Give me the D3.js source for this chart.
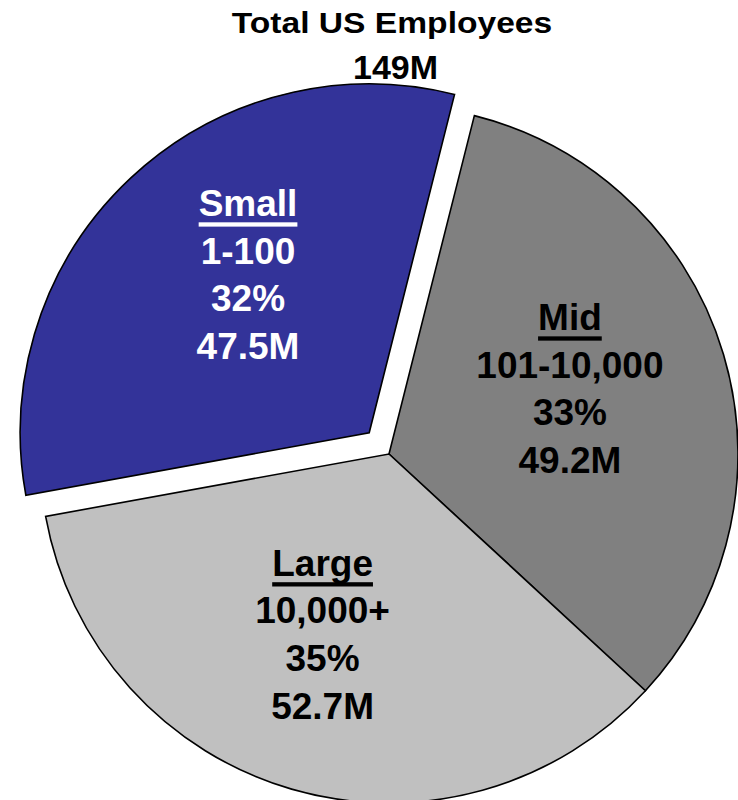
<!DOCTYPE html>
<html>
<head>
<meta charset="utf-8">
<script src="https://cdn.jsdelivr.net/npm/d3@7/dist/d3.min.js"></script>
<style>
  html, body { margin: 0; padding: 0; background: #fff; }
  svg { display: block; }
  text { font-family: "Liberation Sans", Arial, sans-serif; font-weight: bold; }
</style>
</head>
<body>
<svg id="chart" width="738" height="800"></svg>
<script>
// Employees by company size (millions)
const categories = ["Small", "Mid", "Large"];
const sizeRanges = ["1-100", "101-10,000", "10,000+"];
const employees = [47.5, 49.2, 52.7];
const shareLabels = ["32%", "33%", "35%"];
const valueLabels = ["47.5M", "49.2M", "52.7M"];
const titleLines = ["Total US Employees", "149M"];
const exploded = ["Small"];

const colors = { Small: "#333399", Mid: "#808080", Large: "#C0C0C0" };
const textColors = { Small: "#ffffff", Mid: "#000000", Large: "#000000" };

const W = 738, H = 800;
const cx = 389, cy = 454, R = 349;
const explodeDist = 29;
const labelRadius = 195;
const lineGap = 47.7;
const labelFont = 37;
// fine placement of each label block relative to its slice centroid
const labelShift = { Small: [12, -4], Mid: [-6, 2], Large: [-12, 5] };

const data = categories.map((c, i) => ({
  cat: c, range: sizeRanges[i], value: employees[i],
  share: shareLabels[i], amount: valueLabels[i]
}));

const startDeg = 259.7;
const a0 = startDeg * Math.PI / 180;
const pie = d3.pie().sort(null).value(d => d.value)
  .startAngle(a0).endAngle(a0 + 2 * Math.PI);
const arcs = pie(data);

const arc = d3.arc().innerRadius(0).outerRadius(R);
const labelArc = d3.arc().innerRadius(labelRadius).outerRadius(labelRadius);

const svg = d3.select("#chart");
const g = svg.append("g").attr("transform", `translate(${cx},${cy})`);

function offsetOf(d) {
  if (!exploded.includes(d.data.cat)) return [0, 0];
  const mid = (d.startAngle + d.endAngle) / 2;
  return [Math.sin(mid) * explodeDist, -Math.cos(mid) * explodeDist];
}

g.selectAll("path.slice")
  .data(arcs)
  .join("path")
  .attr("class", "slice")
  .attr("d", arc)
  .attr("transform", d => { const o = offsetOf(d); return `translate(${o[0]},${o[1]})`; })
  .attr("fill", d => colors[d.data.cat])
  .attr("stroke", "#000")
  .attr("stroke-width", 1.6)
  .attr("stroke-linejoin", "miter");

// slice labels: underlined category name, size range, share, count
const labels = g.selectAll("g.label")
  .data(arcs)
  .join("g")
  .attr("class", "label")
  .attr("transform", d => {
    const c = labelArc.centroid(d);
    const o = offsetOf(d);
    const s = labelShift[d.data.cat];
    return `translate(${c[0] + o[0] + s[0]},${c[1] + o[1] + s[1]})`;
  });

labels.each(function(d) {
  const grp = d3.select(this);
  const lines = [d.data.cat, d.data.range, d.data.share, d.data.amount];
  const fill = textColors[d.data.cat];
  lines.forEach((t, i) => {
    const y = (i - 1.5) * lineGap + 1;
    const txt = grp.append("text")
      .attr("x", 0).attr("y", y)
      .attr("text-anchor", "middle")
      .attr("font-size", labelFont)
      .attr("fill", fill)
      .text(t);
    if (i === 0) {
      const w = txt.node().getComputedTextLength();
      grp.append("rect")
        .attr("x", -w / 2).attr("y", y + 6.5)
        .attr("width", w).attr("height", 4.3)
        .attr("fill", fill);
    }
  });
});

// chart title
svg.append("text")
  .attr("transform", "translate(392,33) scale(1.12,1)")
  .attr("text-anchor", "middle")
  .attr("font-size", 30)
  .attr("fill", "#000")
  .text(titleLines[0]);

svg.append("text")
  .attr("x", 395.5).attr("y", 79)
  .attr("text-anchor", "middle")
  .attr("font-size", 34)
  .attr("fill", "#000")
  .text(titleLines[1]);
</script>
</body>
</html>
